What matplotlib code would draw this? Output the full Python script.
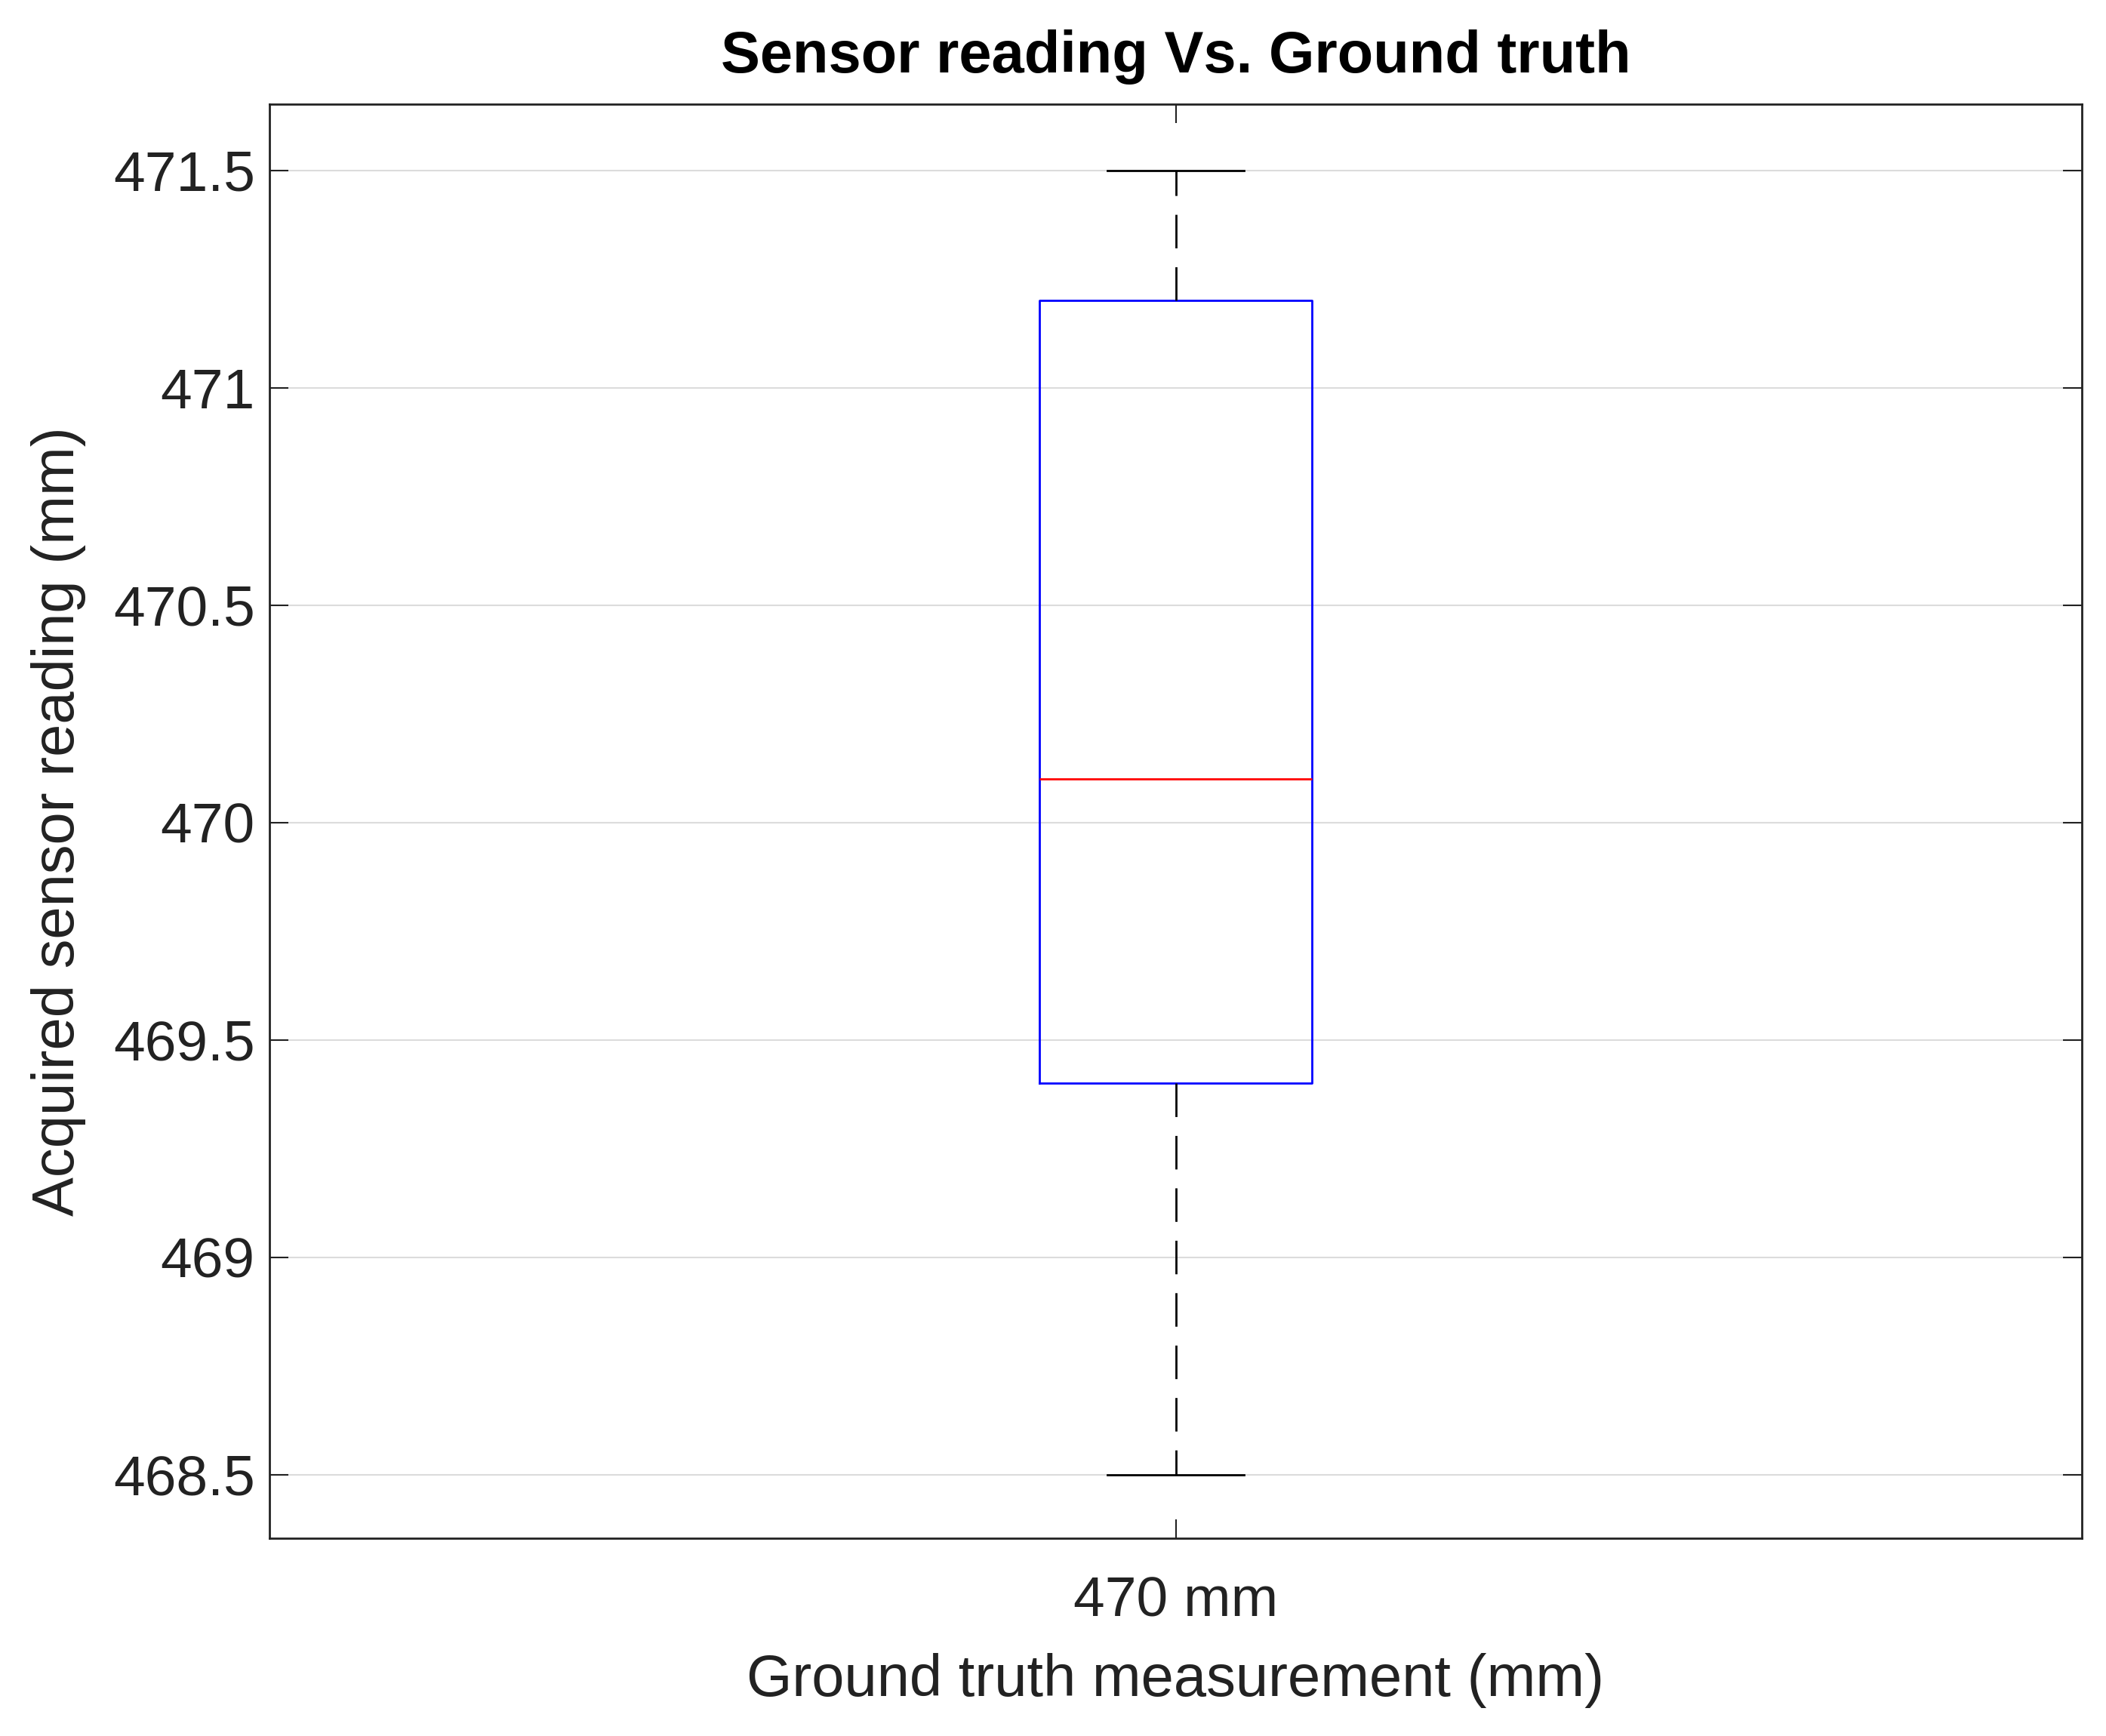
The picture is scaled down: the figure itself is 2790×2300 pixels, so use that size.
import matplotlib
matplotlib.use("Agg")
import matplotlib.pyplot as plt

plt.rcParams['font.family'] = ['Liberation Sans', 'DejaVu Sans']

# box statistics
labels = ["470 mm"]
q1 = [469.4]
median = [470.1]
q3 = [471.2]
whislo = [468.5]
whishi = [471.5]
yticks = [468.5, 469, 469.5, 470, 470.5, 471, 471.5]

stats = [dict(label=l, q1=a, med=m, q3=b, whislo=lo, whishi=hi, fliers=[])
         for l, a, m, b, lo, hi in zip(labels, q1, median, q3, whislo, whishi)]

fig = plt.figure(figsize=(27.9, 23), dpi=100)
ax = fig.add_axes([0.128, 0.114, 0.8605, 0.826])

ax.bxp(stats, widths=0.15, showfliers=False,
       boxprops=dict(color='blue', lw=2),
       medianprops=dict(color='red', lw=2),
       whiskerprops=dict(color='black', lw=2, linestyle=(0, (16, 9))),
       capprops=dict(color='black', lw=2), capwidths=0.075)

ax.set_xlim(0.5, 1.5)
ax.set_ylim(468.354, 471.652)
ax.set_yticks(yticks)
ax.set_yticklabels(["468.5", "469", "469.5", "470", "470.5", "471", "471.5"])
ax.yaxis.grid(True, color='#dcdcdc', lw=1.5)
ax.set_axisbelow(True)
ax.tick_params(direction='in', length=18, width=1.5, labelsize=54, colors='#222222',
               top=True, right=True, pad=14)
ax.tick_params(axis='x', pad=36)
for s in ax.spines.values():
    s.set_linewidth(2)
    s.set_color('#222222')

ax.set_xlabel("Ground truth measurement (mm)", fontsize=56, color='#222222', labelpad=24)
ax.set_ylabel("Acquired sensor reading (mm)", fontsize=56, color='#222222', labelpad=26)
ax.set_title("Sensor reading Vs. Ground truth", fontsize=56, fontweight='bold', pad=30)

fig.savefig("out.png", dpi=100)
